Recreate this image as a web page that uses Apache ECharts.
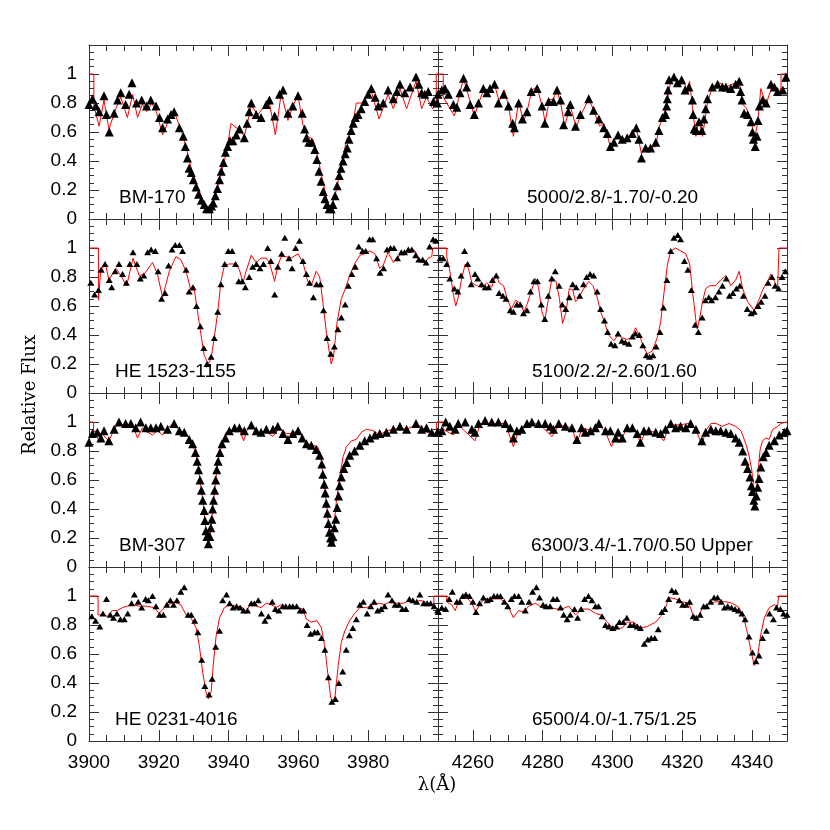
<!DOCTYPE html>
<html>
<head>
<meta charset="utf-8">
<script src="https://cdn.jsdelivr.net/npm/echarts@6/dist/echarts.min.js"></script>
<style>
  html, body { margin: 0; padding: 0; background: #fff; }
  #chart { width: 830px; height: 830px; }
</style>
</head>
<body>
<div id="chart"></div>
<script>
// wavelength (A), relative flux -- observed points and synthetic fit, per star
// Ca II H&K region (left column)
const bm170HK = [[3900.0,.79],[3901.0,.83],[3902.0,.78],[3902.9,.74],[3904.3,.85],[3905.0,.72],[3905.8,.60],[3907.2,.73],[3908.2,.82],[3909.1,.87],[3910.5,.79],[3911.5,.86],[3912.3,.94],[3913.6,.80],[3915.1,.82],[3916.5,.78],[3917.7,.82],[3919.2,.78],[3920.2,.70],[3921.1,.63],[3922.5,.69],[3923.5,.72],[3924.4,.74],[3925.9,.63],[3927.0,.57],[3927.6,.50],[3928.2,.42],[3928.7,.35],[3929.3,.32],[3929.9,.27],[3930.7,.22],[3931.4,.17],[3932.2,.13],[3933.0,.10],[3933.7,.07],[3934.5,.07],[3935.1,.09],[3935.6,.11],[3936.2,.16],[3936.8,.21],[3937.4,.27],[3937.9,.33],[3938.5,.39],[3939.1,.46],[3939.7,.50],[3940.4,.54],[3941.2,.54],[3942.2,.58],[3943.1,.62],[3944.5,.56],[3945.3,.66],[3945.9,.74],[3946.5,.80],[3947.9,.72],[3949.3,.70],[3950.8,.79],[3951.7,.82],[3953.2,.71],[3954.6,.86],[3955.6,.89],[3957.0,.73],[3958.4,.78],[3959.9,.85],[3961.1,.73],[3961.8,.62],[3962.3,.56],[3963.0,.53],[3963.8,.53],[3964.7,.48],[3965.3,.41],[3965.9,.33],[3966.5,.26],[3967.1,.19],[3967.6,.14],[3968.2,.10],[3968.8,.07],[3969.4,.07],[3969.9,.10],[3970.5,.16],[3971.1,.23],[3971.7,.30],[3972.2,.35],[3972.8,.40],[3973.4,.45],[3974.0,.49],[3974.5,.55],[3975.1,.61],[3975.7,.66],[3976.3,.70],[3977.1,.72],[3978.0,.76],[3979.0,.81],[3980.0,.86],[3980.9,.90],[3982.0,.84],[3982.9,.78],[3984.3,.80],[3985.7,.89],[3987.2,.83],[3988.2,.88],[3989.1,.93],[3990.5,.87],[3992.0,.91],[3993.7,.98],[3994.5,.93],[3995.3,.87],[3996.2,.86],[3997.2,.88],[3998.7,.81],[3999.8,.80]];
const bm170HKFit = [[3900,1],[3901.4,1],[3901.4,.78],[3902.9,.64],[3904.3,.82],[3905.7,.62],[3907.7,.76],[3909.1,.84],[3911.0,.70],[3912.5,.86],[3913.9,.70],[3915.3,.79],[3916.5,.74],[3918.0,.80],[3919.3,.74],[3921.1,.58],[3923.0,.69],[3924.4,.74],[3926.3,.62],[3927.8,.50],[3929.2,.36],[3930.7,.25],[3932.6,.13],[3934.3,.07],[3935.9,.13],[3937.4,.27],[3938.8,.40],[3939.8,.52],[3940.7,.66],[3942.1,.63],[3943.1,.62],[3944.5,.57],[3946.5,.78],[3948.4,.72],[3950.0,.77],[3951.7,.80],[3953.4,.58],[3955.1,.87],[3957.0,.68],[3958.4,.78],[3959.9,.85],[3961.3,.65],[3962.7,.57],[3964.2,.55],[3965.6,.42],[3967.0,.26],[3968.5,.10],[3969.2,.07],[3970.4,.15],[3972.3,.36],[3973.8,.55],[3975.2,.60],[3976.6,.80],[3978.1,.80],[3979.0,.82],[3980.9,.88],[3983.1,.69],[3985.7,.86],[3987.2,.76],[3989.1,.90],[3991.0,.76],[3993.7,.95],[3995.3,.76],[3996.7,.84],[3998.5,.76],[3999.5,.80],[3999.5,1],[4000,1]];

const he1523HK = [[3900.5,.76],[3901.6,.68],[3902.7,.71],[3903.5,.85],[3904.6,.89],[3905.8,.78],[3906.5,.73],[3907.5,.84],[3908.6,.89],[3909.6,.82],[3910.7,.76],[3911.7,.89],[3912.6,.97],[3913.7,.89],[3914.7,.79],[3915.7,.81],[3916.8,.97],[3917.8,.99],[3919.0,.98],[3919.8,.84],[3920.8,.65],[3921.8,.69],[3922.8,.88],[3923.8,.99],[3924.7,1.02],[3925.9,1.02],[3926.8,.98],[3927.8,.85],[3928.7,.70],[3929.8,.73],[3930.8,.60],[3931.9,.46],[3932.9,.31],[3933.8,.20],[3935.0,.25],[3935.9,.38],[3936.9,.56],[3937.8,.75],[3938.9,.89],[3939.9,.98],[3941.0,.98],[3942.0,.89],[3942.9,.77],[3943.9,.77],[3944.8,.73],[3945.9,.80],[3946.9,.87],[3948.0,.89],[3949.0,.86],[3950.0,.89],[3951.2,1.00],[3952.1,.91],[3953.2,.68],[3954.1,.87],[3955.2,.96],[3956.1,1.07],[3957.3,.93],[3958.2,.86],[3959.2,1.00],[3960.3,1.05],[3961.3,.91],[3962.3,.82],[3963.2,.76],[3964.3,.66],[3965.2,.75],[3966.3,.75],[3967.2,.57],[3968.2,.38],[3969.3,.27],[3970.3,.32],[3971.3,.44],[3972.3,.52],[3973.4,.61],[3974.3,.74],[3975.3,.82],[3976.3,.87],[3977.3,1.01],[3978.4,.98],[3979.3,.98],[3980.4,1.06],[3981.3,1.06],[3982.4,.93],[3983.4,.83],[3984.4,.86],[3985.4,.99],[3986.4,1.00],[3987.4,1.00],[3988.4,.93],[3989.5,.97],[3990.4,.97],[3991.5,.99],[3992.5,.99],[3993.6,.95],[3994.5,.92],[3995.6,.92],[3996.6,.90],[3997.6,1.01],[3998.6,1.06],[3999.4,1.05]];
const he1523HKFit = [[3900,1],[3902.7,1],[3902.7,.64],[3903.4,.86],[3904.8,.88],[3905.7,.78],[3906.7,.82],[3907.7,.86],[3909.1,.81],[3910.8,.74],[3912.6,.93],[3914.4,.81],[3915.8,.82],[3918.2,.90],[3919.6,.82],[3921.1,.66],[3923.0,.84],[3924.9,.94],[3926.3,.92],[3927.8,.84],[3929.2,.71],[3930.2,.71],[3931.1,.56],[3932.1,.40],[3933.0,.26],[3934.2,.20],[3935.0,.24],[3935.9,.38],[3936.9,.56],[3937.8,.77],[3938.8,.88],[3940.2,.89],[3942.1,.89],[3943.1,.85],[3944.1,.76],[3945.0,.84],[3946.5,.95],[3947.9,.90],[3949.3,.93],[3950.8,.93],[3951.7,.90],[3953.2,.77],[3954.1,.88],[3955.1,.94],[3956.5,.94],[3957.9,.93],[3959.9,.96],[3961.3,.90],[3962.7,.77],[3963.7,.74],[3965.1,.84],[3966.1,.80],[3967.0,.63],[3968.0,.42],[3969.0,.26],[3969.4,.20],[3970.1,.26],[3971.1,.49],[3972.3,.65],[3973.3,.71],[3974.7,.81],[3976.1,.89],[3977.6,.95],[3979.0,.96],[3980.5,.98],[3981.9,.96],[3983.3,.86],[3984.3,.88],[3985.7,.97],[3987.2,.90],[3988.1,.93],[3989.6,.96],[3992.0,.97],[3993.4,.98],[3994.3,.94],[3995.3,.90],[3996.3,.90],[3997.2,.93],[3998.2,.94],[3998.5,.94],[3998.5,1],[4000,1]];

const bm307HK = [[3900.0,.86],[3901.0,.92],[3902.4,.93],[3903.4,.89],[3904.3,.94],[3905.7,.87],[3907.2,.95],[3908.6,1.00],[3910.5,.99],[3912.0,.99],[3913.4,.96],[3914.8,1.00],[3916.3,.96],[3917.7,.96],[3919.2,.96],[3920.6,.97],[3922.5,.95],[3924.4,.99],[3925.9,.94],[3927.3,.93],[3928.7,.88],[3929.7,.85],[3930.5,.79],[3931.0,.73],[3931.4,.67],[3931.8,.60],[3932.2,.53],[3932.6,.46],[3933.0,.39],[3933.2,.32],[3933.5,.25],[3933.8,.21],[3934.2,.16],[3934.6,.21],[3934.9,.27],[3935.2,.33],[3935.4,.40],[3935.7,.46],[3936.0,.53],[3936.3,.60],[3936.6,.67],[3937.0,.73],[3937.5,.79],[3938.1,.85],[3939.1,.89],[3940.2,.94],[3941.7,.96],[3943.1,.96],[3944.5,.94],[3946.5,.98],[3947.9,.94],[3949.3,.93],[3950.8,.95],[3952.7,.95],[3954.1,.97],[3955.6,.92],[3957.0,.88],[3958.4,.92],[3959.9,.94],[3961.1,.89],[3962.3,.85],[3963.7,.84],[3965.1,.81],[3966.1,.77],[3966.7,.71],[3967.0,.64],[3967.4,.57],[3967.7,.51],[3968.0,.44],[3968.3,.37],[3968.6,.30],[3968.9,.24],[3969.2,.20],[3969.5,.17],[3969.9,.21],[3970.3,.27],[3970.7,.33],[3971.1,.41],[3971.5,.49],[3971.8,.56],[3972.3,.62],[3973.0,.68],[3973.8,.72],[3974.7,.77],[3976.1,.80],[3977.6,.84],[3979.0,.87],[3980.5,.89],[3981.9,.91],[3983.3,.92],[3985.2,.93],[3987.2,.95],[3989.1,.97],[3991.0,.95],[3993.7,.99],[3995.3,.95],[3996.7,.96],[3998.2,.93],[3999.8,.93]];
const bm307HKFit = [[3900,1],[3901.3,1],[3901.3,.93],[3901.9,.94],[3902.9,.86],[3903.8,.92],[3904.8,.89],[3905.7,.87],[3907.2,.95],[3908.6,.99],[3910.5,.98],[3912.5,.98],[3913.9,.89],[3915.3,.96],[3916.8,.93],[3918.2,.91],[3919.6,.94],[3921.1,.91],[3922.5,.96],[3924.4,.99],[3925.9,.94],[3927.3,.93],[3928.7,.89],[3930.2,.81],[3931.1,.73],[3931.8,.60],[3932.6,.46],[3933.2,.32],[3933.8,.21],[3934.2,.16],[3934.6,.21],[3935.2,.33],[3935.7,.46],[3936.3,.60],[3937.0,.73],[3938.3,.87],[3939.3,.93],[3941.2,.94],[3943.1,.95],[3944.3,.87],[3945.5,.96],[3946.9,.97],[3948.9,.91],[3950.3,.94],[3952.7,.90],[3954.6,.96],[3956.5,.92],[3958.4,.92],[3959.9,.95],[3961.3,.89],[3962.7,.85],[3964.1,.84],[3965.5,.83],[3966.3,.78],[3967.0,.64],[3967.7,.51],[3968.3,.37],[3968.9,.24],[3969.5,.17],[3969.9,.21],[3970.9,.46],[3971.8,.62],[3972.8,.76],[3973.8,.83],[3975.2,.87],[3976.6,.88],[3978.1,.93],[3979.5,.95],[3981.4,.94],[3983.3,.91],[3985.2,.94],[3987.2,.95],[3989.1,.96],[3991.0,.95],[3993.7,.98],[3995.3,.97],[3996.7,.93],[3998.2,.92],[3999.6,.92],[3999.6,1],[4000,1]];

const he0231HK = [[3900.8,.86],[3901.9,.83],[3903.1,.79],[3904.0,.88],[3905.0,.98],[3906.1,.87],[3907.0,.85],[3908.0,.88],[3909.0,.84],[3910.1,.84],[3911.1,.88],[3912.2,.95],[3913.0,1.01],[3914.1,.96],[3915.1,.92],[3916.2,.98],[3917.0,.97],[3918.2,1.00],[3919.2,.93],[3920.2,.87],[3921.3,.87],[3922.3,.94],[3923.3,.97],[3924.2,.94],[3925.2,.97],[3926.3,1.03],[3927.3,1.06],[3928.4,.87],[3929.3,.87],[3930.3,.83],[3931.2,.75],[3932.3,.56],[3933.2,.38],[3934.4,.32],[3935.3,.43],[3936.3,.65],[3937.4,.76],[3938.3,.97],[3939.4,1.01],[3940.3,.95],[3941.3,.92],[3942.3,.93],[3943.3,.92],[3944.3,.90],[3945.4,.90],[3946.5,.95],[3947.4,.95],[3948.5,.97],[3949.4,.88],[3950.4,.83],[3951.4,.86],[3952.5,.96],[3953.4,.91],[3954.4,.90],[3955.5,.93],[3956.4,.93],[3957.5,.93],[3958.4,.93],[3959.5,.93],[3960.5,.90],[3961.5,.90],[3962.5,.80],[3963.5,.74],[3964.6,.75],[3965.5,.75],[3966.6,.71],[3967.6,.63],[3968.6,.44],[3969.6,.27],[3970.6,.29],[3971.6,.40],[3972.7,.48],[3973.7,.63],[3974.6,.73],[3975.6,.78],[3976.6,.84],[3977.6,.94],[3978.6,.96],[3979.7,.88],[3980.7,.93],[3981.7,.96],[3982.7,.90],[3983.7,.91],[3984.7,.93],[3985.7,1.01],[3986.8,.97],[3987.7,.94],[3988.8,.94],[3989.8,.91],[3990.8,.91],[3991.8,.98],[3992.8,.97],[3993.9,.96],[3994.8,1.01],[3995.9,.95],[3996.9,.95],[3997.9,.95],[3998.9,.93],[3999.9,.90]];
const he0231HKFit = [[3900,1],[3902.6,1],[3902.6,.87],[3903.8,.87],[3905.3,.86],[3906.7,.90],[3908.1,.90],[3909.6,.92],[3911.0,.93],[3912.5,.94],[3914.4,.93],[3916.3,.93],[3918.7,.92],[3920.1,.88],[3922.0,.93],[3924.4,.96],[3926.3,.94],[3927.8,.87],[3929.2,.85],[3930.7,.78],[3931.6,.66],[3932.6,.47],[3933.5,.34],[3934.2,.29],[3935.0,.34],[3935.6,.52],[3936.4,.72],[3937.4,.85],[3938.8,.92],[3940.2,.94],[3942.1,.93],[3944.0,.92],[3944.9,.89],[3946.5,.95],[3947.9,.93],[3949.3,.92],[3950.8,.95],[3952.2,.94],[3953.6,.92],[3955.1,.94],[3956.5,.92],[3958.4,.93],[3959.9,.92],[3961.3,.91],[3962.3,.84],[3963.7,.82],[3965.3,.83],[3966.6,.78],[3967.5,.66],[3968.5,.45],[3969.2,.31],[3969.8,.26],[3970.5,.31],[3971.4,.52],[3972.3,.68],[3973.3,.76],[3974.7,.83],[3976.1,.88],[3977.6,.92],[3979.5,.92],[3981.4,.94],[3983.3,.95],[3984.7,.94],[3986.2,.96],[3988.1,.95],[3990.0,.95],[3992.0,.97],[3993.9,.96],[3994.8,.97],[3996.3,.96],[3997.7,.94],[3998.8,.93],[3998.8,1],[4000,1]];

// G-band / H-gamma region (right column)
const bm170G = [[4250.0,.86],[4251.1,.89],[4252.0,.90],[4253.0,.86],[4254.4,.79],[4255.4,.77],[4256.3,.87],[4257.3,.97],[4258.2,.91],[4259.2,.79],[4260.4,.72],[4261.6,.80],[4263.0,.90],[4264.0,.87],[4264.9,.90],[4266.2,.93],[4267.3,.80],[4268.8,.86],[4270.2,.78],[4271.4,.66],[4271.9,.63],[4273.1,.80],[4274.2,.69],[4275.5,.74],[4276.7,.88],[4278.4,.90],[4279.8,.78],[4280.6,.66],[4281.7,.81],[4283.1,.81],[4284.1,.89],[4285.1,.82],[4286.0,.65],[4287.3,.74],[4287.9,.79],[4289.4,.64],[4290.8,.72],[4293.2,.83],[4294.6,.75],[4296.1,.69],[4297.5,.63],[4298.5,.59],[4299.4,.50],[4300.4,.53],[4301.6,.58],[4302.8,.55],[4304.2,.56],[4305.7,.59],[4306.8,.63],[4307.6,.55],[4308.3,.42],[4309.5,.49],[4310.9,.49],[4312.4,.53],[4313.3,.61],[4314.3,.70],[4315.2,.72],[4315.5,.78],[4315.7,.83],[4315.9,.89],[4316.2,.96],[4317.6,.98],[4318.6,.94],[4319.8,.96],[4320.8,.89],[4321.9,.91],[4322.9,.82],[4323.1,.72],[4323.4,.62],[4324.0,.61],[4324.8,.67],[4325.6,.61],[4326.2,.69],[4326.7,.76],[4327.2,.83],[4328.6,.91],[4330.1,.93],[4331.5,.91],[4332.5,.91],[4333.9,.90],[4335.3,.93],[4336.3,.95],[4336.7,.88],[4337.1,.82],[4337.7,.73],[4338.7,.72],[4339.7,.67],[4340.1,.60],[4340.4,.55],[4340.9,.50],[4341.4,.57],[4341.7,.68],[4342.1,.78],[4343.0,.82],[4344.0,.80],[4345.4,.93],[4346.4,.91],[4347.3,.88],[4348.8,.89],[4349.7,.98]];
const bm170GFit = [[4250,1],[4251.5,1],[4251.5,.84],[4254.7,.71],[4257.3,.97],[4260.4,.71],[4263.0,.89],[4264.0,.86],[4266.2,.93],[4267.5,.81],[4269.0,.89],[4270.2,.78],[4271.6,.57],[4273.1,.81],[4274.5,.67],[4275.5,.74],[4276.9,.89],[4278.4,.91],[4279.8,.78],[4280.7,.67],[4281.9,.82],[4283.1,.83],[4284.1,.89],[4285.3,.78],[4286.3,.64],[4287.9,.78],[4289.6,.63],[4290.8,.71],[4293.2,.83],[4294.6,.75],[4296.3,.64],[4297.5,.66],[4299.4,.50],[4301.3,.57],[4302.8,.54],[4305.7,.59],[4306.8,.63],[4308.3,.45],[4310.0,.49],[4312.4,.50],[4313.3,.63],[4314.5,.70],[4315.4,.79],[4316.7,.95],[4318.1,.96],[4319.1,.91],[4320.5,.95],[4321.5,.86],[4322.1,.95],[4322.9,.77],[4323.9,.57],[4324.8,.69],[4325.8,.57],[4327.2,.80],[4328.6,.91],[4330.6,.94],[4332.5,.91],[4335.3,.94],[4336.3,.95],[4337.3,.79],[4338.2,.77],[4339.7,.69],[4340.6,.55],[4341.6,.66],[4342.5,.90],[4344.0,.79],[4345.9,.93],[4347.8,.86],[4348.3,.91],[4348.3,1],[4350,1]];

const he1523G = [[4250.6,.93],[4251.5,.93],[4252.5,.89],[4253.4,.79],[4254.7,.72],[4255.7,.70],[4256.6,.81],[4257.6,.98],[4258.5,.89],[4259.5,.75],[4260.6,.82],[4261.4,.79],[4262.5,.75],[4263.5,.73],[4264.5,.73],[4265.6,.78],[4266.7,.81],[4267.5,.69],[4268.6,.67],[4269.5,.65],[4270.7,.57],[4271.6,.56],[4272.6,.61],[4273.6,.61],[4274.5,.55],[4275.5,.57],[4276.5,.70],[4277.5,.77],[4278.5,.77],[4279.6,.61],[4280.6,.51],[4281.6,.67],[4282.6,.79],[4283.6,.84],[4284.7,.74],[4285.6,.61],[4286.6,.58],[4287.6,.66],[4288.6,.75],[4289.6,.73],[4290.6,.67],[4291.7,.75],[4292.6,.80],[4293.6,.82],[4294.6,.81],[4295.6,.70],[4296.6,.58],[4297.7,.50],[4298.6,.42],[4299.6,.34],[4300.7,.33],[4301.6,.41],[4302.7,.36],[4303.7,.35],[4304.7,.34],[4305.7,.39],[4306.6,.41],[4307.7,.40],[4308.7,.33],[4309.7,.26],[4310.6,.25],[4311.6,.26],[4312.5,.32],[4313.6,.42],[4314.6,.59],[4315.6,.78],[4316.7,.98],[4317.6,1.07],[4318.7,1.09],[4319.5,1.06],[4320.6,.91],[4321.6,.85],[4322.6,.71],[4323.7,.47],[4324.6,.42],[4325.7,.52],[4326.6,.64],[4327.6,.66],[4328.4,.64],[4329.5,.66],[4330.5,.70],[4331.5,.74],[4332.6,.79],[4333.5,.67],[4334.5,.69],[4335.5,.72],[4336.5,.74],[4337.5,.67],[4338.6,.58],[4339.7,.55],[4340.6,.56],[4341.7,.60],[4342.6,.63],[4343.7,.67],[4344.6,.76],[4345.7,.80],[4346.6,.74],[4347.6,.72],[4348.6,.80],[4349.5,.84]];
const he1523GFit = [[4250,1],[4252.5,1],[4252.5,.94],[4253.4,.84],[4254.4,.68],[4255.1,.60],[4255.8,.66],[4256.8,.79],[4257.8,.89],[4258.7,.86],[4259.7,.76],[4261.1,.74],[4262.5,.73],[4264.0,.76],[4265.4,.73],[4266.6,.82],[4267.5,.76],[4268.8,.74],[4269.7,.66],[4271.0,.58],[4272.3,.64],[4273.6,.62],[4274.6,.56],[4275.5,.61],[4276.7,.70],[4277.9,.79],[4278.8,.73],[4279.8,.56],[4280.6,.50],[4281.5,.63],[4282.7,.80],[4283.8,.77],[4284.8,.65],[4285.7,.48],[4286.7,.56],[4287.6,.72],[4288.6,.71],[4289.4,.63],[4290.3,.65],[4291.5,.71],[4293.2,.77],[4294.4,.74],[4295.6,.66],[4296.6,.56],[4297.7,.49],[4298.9,.40],[4300.4,.36],[4301.6,.40],[4302.8,.38],[4304.2,.37],[4305.5,.38],[4306.6,.45],[4308.0,.38],[4309.0,.31],[4310.0,.27],[4311.4,.29],[4312.8,.38],[4313.8,.49],[4314.7,.68],[4315.7,.88],[4316.7,.98],[4318.1,1.00],[4319.5,.98],[4321.0,.96],[4322.1,.89],[4322.9,.71],[4323.9,.50],[4324.3,.44],[4325.0,.52],[4325.8,.63],[4326.7,.72],[4327.9,.74],[4329.6,.74],[4331.0,.78],[4332.5,.81],[4333.9,.74],[4335.3,.78],[4336.3,.84],[4337.3,.72],[4338.7,.63],[4340.6,.57],[4342.1,.65],[4343.0,.71],[4344.4,.77],[4345.4,.82],[4346.4,.77],[4347.3,.72],[4347.7,.72],[4347.7,1],[4350,1]];

const bm307G = [[4250.0,.93],[4251.1,.94],[4252.2,1.00],[4253.4,.97],[4254.9,.95],[4255.8,.99],[4257.8,1.00],[4259.7,.95],[4260.6,.93],[4261.6,.99],[4263.5,1.01],[4265.4,1.00],[4267.3,1.00],[4269.3,.99],[4270.7,.96],[4271.6,.89],[4272.6,.94],[4274.0,.95],[4275.5,.99],[4276.9,1.00],[4278.8,.99],[4280.7,.99],[4282.2,.97],[4283.1,.95],[4284.6,.99],[4286.5,.97],[4288.4,.96],[4289.8,.88],[4291.1,.96],[4292.2,.93],[4293.7,.94],[4295.1,.96],[4296.1,.99],[4298.0,.94],[4299.4,.94],[4300.9,.89],[4301.6,.93],[4302.8,.89],[4304.2,.96],[4305.7,.96],[4307.1,.92],[4308.0,.86],[4309.0,.94],[4310.4,.94],[4312.4,.93],[4313.8,.92],[4315.2,.95],[4316.7,.99],[4318.1,.96],[4319.5,.97],[4321.0,.96],[4322.4,.99],[4323.9,.95],[4325.6,.87],[4326.7,.93],[4328.2,.95],[4329.6,.94],[4331.0,.94],[4332.5,.93],[4333.9,.92],[4335.3,.89],[4336.3,.86],[4337.3,.80],[4338.0,.73],[4338.7,.68],[4339.4,.62],[4339.8,.56],[4340.1,.52],[4340.5,.46],[4340.8,.42],[4341.2,.49],[4341.6,.55],[4342.0,.61],[4342.5,.69],[4343.2,.76],[4344.0,.79],[4344.9,.84],[4346.4,.87],[4347.8,.91],[4349.2,.93],[4350.0,.94]];
const bm307GFit = [[4250,1],[4251.5,1],[4251.5,.95],[4254.4,.91],[4255.8,.98],[4260.6,.87],[4262.1,.99],[4265.4,.99],[4269.3,.99],[4271.6,.83],[4273.1,.94],[4275.0,.98],[4278.8,.99],[4282.7,.90],[4284.6,.98],[4288.4,.96],[4289.8,.85],[4291.3,.96],[4294.1,.94],[4296.1,.98],[4298.0,.93],[4299.7,.83],[4301.0,.90],[4302.3,.86],[4303.7,.94],[4305.7,.96],[4307.1,.92],[4308.0,.85],[4309.5,.94],[4312.4,.93],[4314.7,.87],[4316.2,.98],[4319.1,.98],[4321.9,.99],[4323.9,.95],[4325.6,.84],[4326.7,.94],[4328.2,.99],[4329.6,.99],[4331.5,.97],[4333.4,.99],[4335.3,.97],[4336.8,.94],[4338.2,.85],[4339.2,.76],[4339.9,.67],[4340.6,.51],[4340.9,.46],[4341.4,.58],[4341.9,.71],[4342.3,.81],[4343.0,.87],[4344.0,.89],[4344.9,.88],[4345.9,.95],[4347.3,.97],[4348.3,.99],[4348.3,1],[4350,1]];

const he0231G = [[4250.1,.89],[4251.1,.92],[4252.2,.91],[4253.2,.98],[4254.1,1.03],[4255.4,.96],[4256.3,.96],[4257.1,1.00],[4258.0,1.01],[4259.0,1.00],[4260.0,.96],[4260.9,.89],[4261.9,.95],[4263.0,.99],[4264.1,.97],[4265.0,.98],[4266.0,1.00],[4267.0,1.00],[4267.9,1.00],[4269.0,.96],[4270.0,.93],[4271.0,.98],[4271.9,1.00],[4273.1,1.00],[4274.0,.96],[4275.0,.90],[4276.1,.96],[4277.1,1.03],[4278.2,1.06],[4279.1,.99],[4280.1,.94],[4281.0,.93],[4282.1,.93],[4283.0,.98],[4284.1,.98],[4285.1,.92],[4286.0,.87],[4287.0,.84],[4287.9,.87],[4289.1,.91],[4290.0,.85],[4291.0,.91],[4292.0,.98],[4293.1,1.00],[4294.1,.97],[4295.1,.93],[4296.0,.93],[4297.0,.86],[4298.0,.80],[4299.0,.79],[4300.1,.78],[4301.1,.79],[4302.0,.82],[4303.1,.82],[4304.1,.85],[4305.1,.80],[4306.1,.80],[4307.1,.79],[4308.0,.78],[4309.1,.67],[4310.1,.70],[4311.1,.71],[4312.1,.71],[4313.1,.77],[4314.1,.89],[4315.0,.91],[4316.1,.98],[4317.0,1.04],[4318.1,1.03],[4319.1,.97],[4320.1,.94],[4321.1,.94],[4322.1,.96],[4323.1,.86],[4324.0,.85],[4325.1,.87],[4326.1,.93],[4327.0,.93],[4328.1,.96],[4329.1,.99],[4330.1,.99],[4331.1,.96],[4332.1,.92],[4333.0,.93],[4334.1,.92],[4335.1,.91],[4336.1,.90],[4337.1,.88],[4338.0,.84],[4339.1,.72],[4340.1,.61],[4341.1,.55],[4342.0,.59],[4343.0,.71],[4344.1,.76],[4345.0,.88],[4346.1,.84],[4347.0,.92],[4348.1,.91],[4349.0,.88],[4350.0,.87]];
const he0231GFit = [[4250,1],[4252.5,1],[4252.5,.96],[4253.9,.94],[4254.9,.90],[4256.3,.98],[4258.2,.99],[4259.7,.95],[4260.8,.89],[4262.1,.95],[4263.5,.98],[4265.4,.98],[4267.8,.98],[4269.7,.95],[4271.6,.85],[4273.1,.90],[4274.5,.89],[4276.0,.93],[4277.9,.95],[4279.8,.92],[4282.2,.92],[4284.1,.91],[4285.5,.91],[4287.5,.93],[4289.4,.87],[4291.3,.91],[4293.2,.91],[4295.1,.88],[4296.6,.87],[4298.5,.82],[4300.4,.77],[4302.8,.78],[4304.2,.82],[4306.1,.82],[4308.0,.78],[4310.0,.79],[4312.4,.82],[4313.8,.86],[4315.2,.92],[4316.2,.99],[4318.1,.98],[4320.0,.96],[4321.9,.95],[4322.9,.88],[4324.3,.84],[4325.8,.92],[4327.7,.95],[4329.6,.96],[4332.5,.96],[4334.4,.95],[4336.3,.92],[4337.7,.84],[4338.7,.74],[4339.7,.62],[4340.6,.52],[4341.6,.59],[4342.6,.75],[4343.5,.85],[4344.9,.92],[4346.4,.94],[4347.3,.93],[4347.6,.93],[4347.6,1],[4350,1]];

const starNames = ['BM-170', 'HE 1523-1155', 'BM-307', 'HE 0231-4016'];
const fitLabels = ['5000/2.8/-1.70/-0.20', '5100/2.2/-2.60/1.60', '6300/3.4/-1.70/0.50 Upper', '6500/4.0/-1.75/1.25'];
const hkTicks = [3900, 3920, 3940, 3960, 3980];
const gTicks = [4260, 4280, 4300, 4320, 4340];

// dense: high-resolution spectra drawn as a packed band of triangles
const panels = [
  { obs: bm170HK, fit: bm170HKFit, text: starNames[0], dense: true },
  { obs: bm170G, fit: bm170GFit, text: fitLabels[0], dense: true },
  { obs: he1523HK, fit: he1523HKFit, text: starNames[1], dense: false },
  { obs: he1523G, fit: he1523GFit, text: fitLabels[1], dense: false },
  { obs: bm307HK, fit: bm307HKFit, text: starNames[2], dense: true },
  { obs: bm307G, fit: bm307GFit, text: fitLabels[2], dense: true },
  { obs: he0231HK, fit: he0231HKFit, text: starNames[3], dense: false },
  { obs: he0231G, fit: he0231GFit, text: fitLabels[3], dense: false }
];

const LINE = '#333';
const SANS = '"Liberation Sans", Arial, sans-serif';
const SERIF = '"DejaVu Serif", serif';
const textX = [[119, 527], [115, 532], [119, 531], [115, 532]];

const grid = [], xAxis = [], yAxis = [], series = [], graphic = [];

panels.forEach(function (p, i) {
  const row = Math.floor(i / 2);
  const col = i % 2;
  const top = 45 + row * 174;
  const range = col ? [4250, 4350] : [3900, 4000];
  const majors = col ? gTicks : hkTicks;
  grid.push({ left: col ? 438 : 89, top: top, width: 349, height: 174, containLabel: false, outerBoundsMode: 'none' });

  ['bottom', 'top'].forEach(function (pos) {
    // minor ticks every 5 A
    xAxis.push({
      type: 'value', gridIndex: i, position: pos, min: range[0], max: range[1], interval: 5,
      axisLine: { show: true, onZero: false, lineStyle: { color: LINE, width: 1 } },
      axisTick: { show: true, inside: true, length: 6, lineStyle: { color: LINE } },
      axisLabel: { show: false }, splitLine: { show: false }
    });
    // major ticks + labels
    xAxis.push({
      type: 'value', gridIndex: i, position: pos, min: range[0], max: range[1],
      axisLine: { show: false, onZero: false },
      axisTick: { show: true, inside: true, length: 11, customValues: majors, lineStyle: { color: LINE } },
      axisLabel: {
        show: row === 3 && pos === 'bottom', customValues: majors, margin: 12,
        fontSize: 19, fontFamily: SANS, color: '#000',
        formatter: function (v) { return String(Math.round(v)); }
      },
      splitLine: { show: false }
    });
  });

  ['left', 'right'].forEach(function (pos) {
    yAxis.push({
      type: 'value', gridIndex: i, position: pos, min: 0, max: 1.2, interval: 0.2,
      axisLine: { show: true, onZero: false, lineStyle: { color: LINE, width: 1 } },
      axisTick: { show: true, inside: true, length: 10, lineStyle: { color: LINE } },
      minorTick: { show: true, splitNumber: 4, length: 5, lineStyle: { color: LINE } },
      axisLabel: {
        show: col === 0 && pos === 'left', margin: 12, fontSize: 19, fontFamily: SANS, color: '#000',
        formatter: function (v) {
          if (v > 1.1) return '';
          if (Math.abs(v) < 1e-6) return '0';
          if (Math.abs(v - 1) < 1e-6) return '1';
          return v.toFixed(1);
        }
      },
      splitLine: { show: false }, minorSplitLine: { show: false }
    });
  });

  series.push({
    type: 'line', xAxisIndex: i * 4, yAxisIndex: i * 2, data: p.fit,
    symbol: 'none', showSymbol: false, color: '#ff0000',
    lineStyle: { color: '#ff0000', width: 1 }, z: 2, silent: true
  });
  series.push({
    type: 'scatter', xAxisIndex: i * 4, yAxisIndex: i * 2, data: p.obs,
    symbol: 'triangle', symbolSize: p.dense ? [9, 9] : [7, 6],
    itemStyle: { color: '#000', opacity: 1 }, z: 3, silent: true
  });

  graphic.push({
    type: 'text', x: textX[row][col], y: top + 174 - 21,
    style: { text: p.text, font: '19px ' + SANS, fill: '#000', textAlign: 'left', textVerticalAlign: 'middle' }
  });
});

graphic.push({
  type: 'text', x: 30, y: 395, rotation: Math.PI / 2,
  style: { text: 'Relative Flux', font: '18px ' + SERIF, fill: '#000', textAlign: 'center', textVerticalAlign: 'middle' }
});
graphic.push({
  type: 'text', x: 437, y: 785,
  style: { text: 'λ(Å)', font: '18px ' + SERIF, fill: '#000', textAlign: 'center', textVerticalAlign: 'middle' }
});

const chart = echarts.init(document.getElementById('chart'));
chart.setOption({
  animation: false,
  backgroundColor: '#fff',
  grid: grid,
  xAxis: xAxis,
  yAxis: yAxis,
  series: series,
  graphic: graphic
});
</script>
</body>
</html>
